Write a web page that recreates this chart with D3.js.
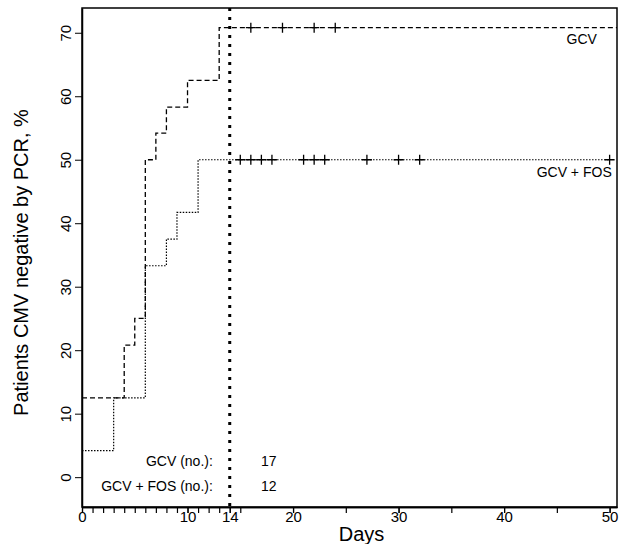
<!DOCTYPE html>
<html><head><meta charset="utf-8">
<script src="https://cdn.jsdelivr.net/npm/d3@7"></script>
<style>body{margin:0;background:#fff}text{font-family:"Liberation Sans",Arial,sans-serif}</style>
</head><body><div id="chart"></div>
<script>
// Kaplan-Meier style step data (day, % negative)
let gcvSteps = [[0, 12.5], [4, 20.8], [5, 25], [6, 50], [7, 54.2], [8, 58.3], [10, 62.5], [13, 70.8], [50.7, 70.8]];
let fosSteps = [[0, 4.17], [3, 12.5], [6, 33.3], [8, 37.5], [9, 41.7], [11, 50], [50, 50]];
let gcvCensor = [16, 19, 22, 24];
let fosCensor = [15, 16, 17, 18, 21, 22, 23, 27, 30, 32, 50];
let yTicks = [0, 10, 20, 30, 40, 50, 60, 70];
let xLabels = [0, 10, 14, 20, 30, 40, 50];
let xMinor = [0, 1, 2, 3, 4, 5, 6, 7, 8, 9, 10, 11, 12, 13, 14, 15, 20, 25, 30, 35, 40, 45, 50];
let atRisk = [["GCV (no.):", 17], ["GCV + FOS (no.):", 12]];

let W = 623, H = 544;
let margin = { top: 8, right: 6, bottom: 37, left: 82 },
    width = W - margin.left - margin.right,
    height = H - margin.top - margin.bottom;

let svg = d3.select("#chart").append("svg").attr("width", W).attr("height", H)
    .append("g").attr("transform", "translate(" + margin.left + "," + margin.top + ")");

let x = d3.scaleLinear().domain([0, 50.7]).range([0, width]);
let y = d3.scaleLinear().domain([-4.7, 73.9]).range([height, 0]);

// frame
svg.append("rect").attr("width", width).attr("height", height)
    .attr("fill", "none").attr("stroke", "#000").attr("stroke-width", 1.5);

// x axis
let xAxis = svg.append("g").attr("transform", "translate(0," + height + ")");
xAxis.call(d3.axisBottom(x).tickValues(xMinor).tickFormat("").tickSize(6).tickSizeOuter(0));
xAxis.append("g").call(d3.axisBottom(x).tickValues(xLabels).tickFormat(d3.format("d")).tickSize(6).tickSizeOuter(0))
    .selectAll("text").attr("fill", "#000").style("font-size", "15px").attr("y", 4).attr("dy", "0.71em");
xAxis.selectAll(".domain").attr("stroke-width", 1.5);
xAxis.selectAll("line").attr("stroke-width", 1.2);

// y axis
let yAxis = svg.append("g").call(d3.axisLeft(y).tickValues(yTicks).tickSize(7).tickSizeOuter(0));
yAxis.selectAll(".domain").attr("stroke-width", 1.5);
yAxis.selectAll("text").style("font-size", "15px").attr("fill", "#000")
    .attr("text-anchor", "middle").attr("x", -17).attr("dy", "0")
    .attr("transform", function () { return "rotate(-90," + d3.select(this).attr("x") + ",0)"; })
    .attr("dominant-baseline", "central");

let line = d3.line().x(d => x(d[0])).y(d => y(d[1])).curve(d3.curveStepAfter);

svg.append("path").datum(gcvSteps).attr("d", line).attr("fill", "none")
    .attr("stroke", "#000").attr("stroke-width", 1.3).attr("stroke-dasharray", "5,3");
svg.append("path").datum(fosSteps).attr("d", line).attr("fill", "none")
    .attr("stroke", "#000").attr("stroke-width", 1.2).attr("stroke-dasharray", "1.5,1.5");

function censor(days, val) {
    svg.selectAll(null).data(days).enter().append("path")
        .attr("d", d => "M" + (x(d) - 5) + "," + y(val) + "h10M" + x(d) + "," + (y(val) - 5) + "v10")
        .attr("stroke", "#000").attr("stroke-width", 1.3);
}
censor(gcvCensor, 70.8);
censor(fosCensor, 50);

// day 14 reference line
svg.append("line").attr("x1", x(14)).attr("x2", x(14)).attr("y1", 0).attr("y2", height)
    .attr("stroke", "#000").attr("stroke-width", 3).attr("stroke-dasharray", "3,6");

svg.append("text").attr("x", x(48.8)).attr("y", y(68.2)).attr("text-anchor", "end")
    .style("font-size", "14px").text("GCV");
svg.append("text").attr("x", x(50.2)).attr("y", y(47.3)).attr("text-anchor", "end")
    .style("font-size", "14px").text("GCV + FOS");

atRisk.forEach(function (r, i) {
    svg.append("text").attr("x", x(12.4)).attr("y", y(1.8) + i * 25).attr("text-anchor", "end")
        .style("font-size", "14px").text(r[0]);
    svg.append("text").attr("x", x(17.7)).attr("y", y(1.8) + i * 25).attr("text-anchor", "middle")
        .style("font-size", "14px").text(r[1]);
});

svg.append("text").attr("x", width / 2 + 12).attr("y", height + 34).attr("text-anchor", "middle")
    .style("font-size", "20px").text("Days");
svg.append("text").attr("transform", "rotate(-90)").attr("x", -height / 2 - 5).attr("y", -54)
    .attr("text-anchor", "middle").style("font-size", "20px").text("Patients CMV negative by PCR, %");
</script></body></html>
